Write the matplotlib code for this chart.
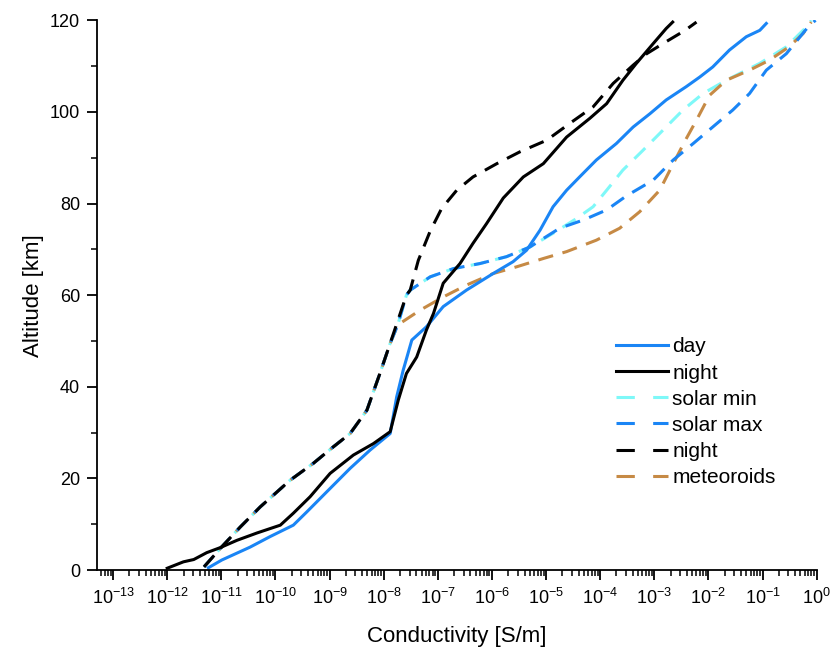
import numpy as np
import matplotlib.pyplot as plt
from matplotlib.lines import Line2D
from matplotlib.ticker import MultipleLocator, FixedLocator, NullFormatter

plt.rcParams['font.family'] = ['Liberation Sans', 'DejaVu Sans']
plt.rcParams['mathtext.fontset'] = 'custom'
plt.rcParams['mathtext.rm'] = 'Liberation Sans'
plt.rcParams['mathtext.it'] = 'Liberation Sans'

# log10 of conductivity [S/m] and altitude [km]
day_log = [-11.24, -10.99, -10.47, -10.10, -9.67, -9.42, -9.05, -8.62, -8.25, -7.88,
           -7.76, -7.64, -7.48, -7.21, -6.90, -6.47, -5.98, -5.61, -5.36, -5.11,
           -4.87, -4.62, -4.38, -4.07, -3.70, -3.39, -3.08, -2.78, -2.41, -2.16,
           -1.92, -1.61, -1.30, -1.05, -0.93]
day_alt = [0.5, 2.2, 5.0, 7.3, 9.8, 12.7, 17.1, 22.2, 26.2, 29.8,
           37.8, 43.6, 50.2, 53.1, 57.5, 61.1, 64.7, 67.3, 69.8, 74.2,
           79.3, 82.9, 85.8, 89.5, 93.1, 96.7, 99.6, 102.6, 105.5, 107.6,
           109.8, 113.5, 116.4, 117.8, 119.3]

night_log = [-12.0, -11.70, -11.51, -11.27, -11.02, -10.71, -10.34, -9.91, -9.67, -9.36,
             -8.99, -8.56, -8.19, -7.88, -7.73, -7.58, -7.39, -7.21, -7.08, -6.90,
             -6.59, -6.35, -6.10, -5.79, -5.42, -5.05, -4.62, -4.19, -3.88, -3.58,
             -3.33, -3.02, -2.78, -2.66]
night_alt = [0.4, 1.8, 2.3, 3.8, 4.9, 6.5, 8.1, 9.8, 12.4, 16.0,
             21.1, 25.1, 27.6, 30.2, 37.1, 42.9, 46.5, 52.4, 56.0, 62.6,
             66.9, 71.3, 75.6, 81.2, 85.8, 88.7, 94.5, 98.6, 101.8, 106.9,
             110.6, 114.9, 118.2, 119.6]

# lower part shared by the four dashed profiles
low_log = [-11.32, -10.99, -10.65, -10.28, -9.73, -9.30, -8.93, -8.62, -8.31, -8.07,
           -7.88, -7.74]
low_alt = [0.7, 5.1, 9.4, 13.8, 19.6, 23.3, 26.9, 29.8, 34.9, 42.9,
           49.5, 53.5]

smin_log = [-7.58, -7.51, -7.14, -6.71, -6.22, -5.73, -5.30, -4.87, -4.44, -4.13,
            -3.88, -3.58, -3.21, -2.84, -2.47, -2.10, -1.67, -1.05, -0.56, -0.19, -0.10]
smin_alt = [60.0, 61.1, 64.0, 65.8, 66.9, 68.4, 70.5, 73.5, 76.7, 79.3,
            82.9, 87.3, 91.6, 96.0, 100.4, 104.0, 106.9, 110.6, 114.2, 118.5, 120.0]

smax_log = [-7.58, -7.51, -7.14, -6.71, -6.22, -5.73, -5.30, -4.75, -4.31, -3.88,
            -3.51, -3.02, -2.65, -2.28, -1.92, -1.55, -1.24, -0.93, -0.56, -0.16, -0.02]
smax_alt = [60.0, 61.1, 64.0, 65.8, 66.9, 68.4, 70.5, 74.6, 76.4, 78.6,
            81.7, 85.1, 89.5, 93.1, 96.7, 100.4, 104.0, 109.1, 112.7, 118.5, 120.0]

nightd_log = [-7.58, -7.51, -7.36, -7.14, -6.93, -6.65, -6.35, -5.91, -5.48, -4.99,
              -4.56, -4.13, -3.76, -3.39, -3.14, -2.84, -2.43, -2.22]
nightd_alt = [60.0, 61.1, 67.6, 74.0, 78.9, 82.9, 85.8, 88.7, 91.3, 93.8,
              97.5, 101.1, 106.2, 110.2, 112.7, 114.9, 117.8, 119.6]

met_log = [-7.33, -6.90, -6.47, -5.98, -5.54, -5.05, -4.62, -4.07, -3.64, -3.27,
           -2.90, -2.71, -2.44, -2.22, -1.98, -1.67, -1.24, -0.87, -0.51, -0.25, -0.10]
met_alt = [56.7, 59.6, 62.2, 64.7, 66.2, 68.0, 69.5, 72.0, 74.6, 78.2,
           82.9, 87.3, 93.5, 98.2, 103.6, 106.9, 109.1, 111.3, 114.2, 117.1, 119.6]

labels = ['day', 'night', 'solar min', 'solar max', 'night', 'meteoroids']
decades = np.arange(-13, 1)

c_blue = '#1a85f5'
c_cyan = '#7ef8f8'
c_brown = '#c68a45'
c_black = '#000000'

def prof(lo, hi):
    return 10.0 ** np.array(lo + hi)

fig = plt.figure(figsize=(8.35, 6.53), dpi=100)
ax = fig.add_axes([0.116, 0.127, 0.862, 0.842])

lw = 2.2
dash = (5, 3.2)

# dashed profiles (lower part is common)
ax.plot(prof(low_log, smin_log), low_alt + smin_alt, color=c_cyan, lw=lw,
        linestyle=(1.5, dash))
ax.plot(prof(low_log, met_log), low_alt + met_alt, color=c_brown, lw=lw,
        linestyle=(0.8, dash))
ax.plot(prof(low_log, smax_log), low_alt + smax_alt, color=c_blue, lw=lw,
        linestyle=(0.4, dash))
ax.plot(prof(low_log[:-1], nightd_log), low_alt[:-1] + nightd_alt, color=c_black, lw=lw,
        linestyle=(0, dash))

# solid profiles
ax.plot(10.0 ** np.array(day_log), day_alt, color=c_blue, lw=lw)
ax.plot(10.0 ** np.array(night_log), night_alt, color=c_black, lw=lw)

ax.set_xscale('log')
ax.set_xlim(10 ** -13.3, 1)
ax.set_ylim(0, 120)

ax.spines['top'].set_visible(False)
ax.spines['right'].set_visible(False)
ax.spines['left'].set_linewidth(1.3)
ax.spines['bottom'].set_linewidth(1.3)

minor = [m * 10.0 ** d for d in range(-14, 0) for m in range(2, 10)]
minor = [v for v in minor if 10 ** -13.3 <= v <= 1]
ax.xaxis.set_major_locator(FixedLocator(10.0 ** decades))
ax.xaxis.set_minor_locator(FixedLocator(minor))
ax.xaxis.set_minor_formatter(NullFormatter())
ax.yaxis.set_major_locator(MultipleLocator(20))
ax.yaxis.set_minor_locator(MultipleLocator(10))

ax.tick_params(which='major', direction='out', length=7, width=1.3, labelsize=13)
ax.tick_params(which='minor', direction='out', length=4, width=1.1)
ax.tick_params(axis='x', which='major', pad=6)
ax.tick_params(axis='y', which='major', pad=5)

ax.set_xlabel('Conductivity [S/m]', fontsize=16, labelpad=13)
ax.set_ylabel('Altitude [km]', fontsize=16, labelpad=4)

# legend proxies
handles = [
    Line2D([], [], color=c_blue, lw=lw),
    Line2D([], [], color=c_black, lw=lw),
    Line2D([], [], color=c_cyan, lw=lw, dashes=(6, 6)),
    Line2D([], [], color=c_blue, lw=lw, dashes=(6, 6)),
    Line2D([], [], color=c_black, lw=lw, dashes=(6, 6)),
    Line2D([], [], color=c_brown, lw=lw, dashes=(6, 6)),
]
ax.legend(handles, labels, loc='upper left', bbox_to_anchor=(0.721, 0.423),
          frameon=False, fontsize=15, handlelength=2.5, handletextpad=0.2,
          labelspacing=0.34, borderaxespad=0, borderpad=0)

fig.savefig('out.png', dpi=100)
